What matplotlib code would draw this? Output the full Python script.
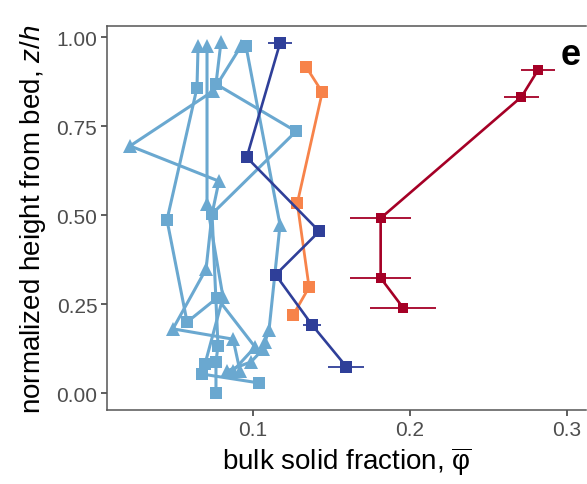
import matplotlib.pyplot as plt

plt.rcParams['font.family'] = ['Liberation Sans', 'DejaVu Sans']
plt.rcParams['mathtext.fontset'] = 'custom'
plt.rcParams['mathtext.rm'] = 'Liberation Sans'
plt.rcParams['mathtext.it'] = 'Liberation Sans:italic'

# light blue profiles (x = bulk solid fraction, y = z/h, shape per point)
lb1_x = [0.065, 0.0643, 0.0452, 0.058, 0.0771, 0.1013, 0.0873]
lb1_y = [0.976, 0.858, 0.487, 0.200, 0.268, 0.130, 0.063]
lb1_shape = ['tri', 'sq', 'sq', 'sq', 'sq', 'tri', 'tri']

lb2_x = [0.0796, 0.0764, 0.1274, 0.0739, 0.0777, 0.0764, 0.0764]
lb2_y = [0.987, 0.869, 0.736, 0.504, 0.133, 0.088, 0.001]
lb2_shape = ['tri', 'sq', 'sq', 'sq', 'sq', 'sq', 'sq']

lb3_x = [0.0924, 0.0745, 0.0217, 0.0783, 0.0739, 0.0701, 0.049, 0.0873, 0.0917]
lb3_y = [0.976, 0.849, 0.695, 0.596, 0.504, 0.349, 0.181, 0.152, 0.063]
lb3_shape = ['tri', 'tri', 'tri', 'tri', 'sq', 'tri', 'tri', 'tri', 'tri']

lb4_x = [0.0955, 0.1172, 0.1102, 0.1076, 0.1064, 0.0987, 0.0834]
lb4_y = [0.976, 0.473, 0.178, 0.144, 0.124, 0.088, 0.063]
lb4_shape = ['sq', 'tri', 'tri', 'tri', 'tri', 'tri', 'tri']

lb5_x = [0.0707, 0.0707, 0.0809, 0.0694, 0.0675, 0.1038]
lb5_y = [0.976, 0.532, 0.270, 0.082, 0.054, 0.029]
lb5_shape = ['tri', 'tri', 'tri', 'sq', 'sq', 'sq']

# dark blue profile with x error
db_x = [0.1172, 0.096, 0.1422, 0.1144, 0.1376, 0.1594]
db_y = [0.984, 0.663, 0.455, 0.333, 0.192, 0.075]
db_err = [0.0075, 0.0, 0.003, 0.002, 0.0057, 0.0115]

# orange profile
or_x = [0.134, 0.1441, 0.1282, 0.1357, 0.1257]
or_y = [0.916, 0.846, 0.534, 0.298, 0.221]

# red profile with x error
rd_x = [0.2815, 0.271, 0.1813, 0.1813, 0.1958]
rd_y = [0.908, 0.833, 0.492, 0.324, 0.239]
rd_err = [0.011, 0.011, 0.0196, 0.0196, 0.021]

light_blue = '#6aa8d0'
dark_blue = '#2f3f99'
orange = '#f7834a'
red = '#a50026'

fig = plt.figure(figsize=(5.87, 4.85), dpi=100)
ax = fig.add_axes([0.1823, 0.1526, 0.8160, 0.7917])

marker_map = {'sq': 's', 'tri': '^'}
light_profiles = [(lb1_x, lb1_y, lb1_shape), (lb2_x, lb2_y, lb2_shape),
                  (lb3_x, lb3_y, lb3_shape), (lb4_x, lb4_y, lb4_shape),
                  (lb5_x, lb5_y, lb5_shape)]
for xs, ys, shapes in light_profiles:
    ax.plot(xs, ys, color=light_blue, lw=2.2, zorder=2)
for xs, ys, shapes in light_profiles:
    for x, y, s in zip(xs, ys, shapes):
        ms = 9 if s == 'sq' else 10
        ax.plot(x, y, marker=marker_map[s], color=light_blue, ms=ms,
                mew=0, ls='none', zorder=3)

# dark blue
ax.errorbar(db_x, db_y, xerr=db_err, color=dark_blue, lw=1.9, elinewidth=1.3,
            capsize=0, marker='s', ms=8, mew=0, zorder=4)

# orange
ax.plot(or_x, or_y, color=orange, lw=2.0, marker='s', ms=8, mew=0, zorder=4)

# red
ax.errorbar(rd_x, rd_y, xerr=rd_err, color=red, lw=1.9, elinewidth=1.3,
            capsize=0, marker='s', ms=7.5, mew=0, zorder=5)

ax.set_xlim(0.007, 0.3121)
ax.set_ylim(-0.047, 1.032)
ax.set_xticks([0.1, 0.2, 0.3])
ax.set_xticklabels(['0.1', '0.2', '0.3'])
ax.set_yticks([0.0, 0.25, 0.5, 0.75, 1.0])
ax.set_yticklabels(['0.00', '0.25', '0.50', '0.75', '1.00'])

for side in ['top', 'left', 'bottom', 'right']:
    ax.spines[side].set_color('#555555')
    ax.spines[side].set_linewidth(1.1)
ax.spines['right'].set_visible(False)
ax.tick_params(axis='both', direction='out', length=4, width=1.1,
               color='#333333', labelcolor='#4d4d4d', labelsize=15, pad=3)

ax.set_xlabel(r'bulk solid fraction, $\overline{\mathrm{\varphi}}$', fontsize=20, labelpad=4)
ax.set_ylabel(r'normalized height from bed, $z/h$', fontsize=20, labelpad=6)

ax.text(0.967, 0.925, 'e', transform=ax.transAxes, fontsize=26,
        fontweight='bold', ha='center', va='center', color='black')

fig.savefig('out.png', dpi=100)
